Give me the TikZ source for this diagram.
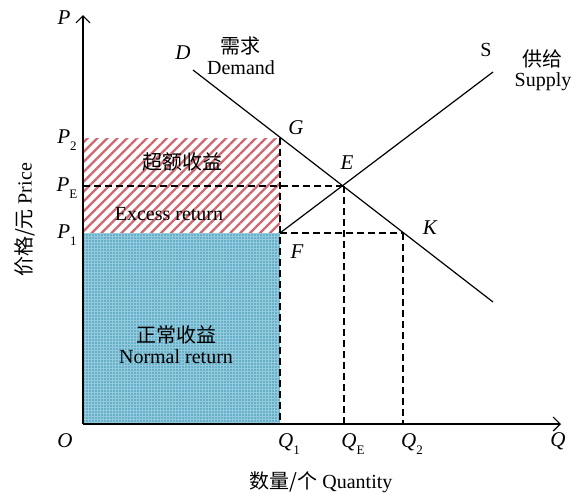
\documentclass[tikz,border=0pt]{standalone}
\usepackage{fontspec}
\setmainfont{Liberation Serif}
\newfontfamily\cjk{Noto Sans CJK SC}
\usetikzlibrary{arrows.meta, patterns.meta}
\definecolor{hatchred}{HTML}{d06670}
\definecolor{normalblue}{HTML}{94cadb}
\definecolor{dotblue}{HTML}{3896b8}
\newcommand{\lbl}[2]{\textit{#1}\raisebox{-0.75ex}{\upshape\fontsize{13}{13}\selectfont #2}}
\tikzset{
  axis/.style={line width=1.2pt, -{Straight Barb[length=7pt, width=14pt]}},
  curve/.style={line width=1.2pt},
  guide/.style={line width=1.2pt, dash pattern=on 7pt off 4pt},
  ptlabel/.style={font=\fontsize{21}{23}\selectfont\itshape, inner sep=1pt},
  txt/.style={font=\fontsize{20}{23}\selectfont, align=center, inner sep=1pt},
}

\begin{document}
\begin{tikzpicture}[x=1pt, y=-1pt]
  \useasboundingbox (0,0) rectangle (571,493);

  \coordinate (O) at (83,424);
  \coordinate (Ptop) at (83,15);
  \coordinate (Qend) at (561,424);
  \coordinate (G) at (280,138);
  \coordinate (E) at (344,186);
  \coordinate (F) at (280,233);
  \coordinate (K) at (403,233);
  \coordinate (Dstart) at (193,70);
  \coordinate (Dend) at (493,302);
  \coordinate (Send) at (493,72);
  \coordinate (P2) at (83,138);
  \coordinate (PE) at (83,186);
  \coordinate (P1) at (83,233);
  \coordinate (Q1) at (280,424);
  \coordinate (QE) at (344,424);
  \coordinate (Q2) at (403,424);

  % areas
  \path [pattern={Lines[angle=45, distance=7pt, line width=2.3pt]}, pattern color=hatchred] (P2) rectangle (F);
  \fill [normalblue] (P1) rectangle (Q1);
  \path [pattern={Dots[distance=3pt, radius=0.8pt]}, pattern color=dotblue] (P1) rectangle (Q1);

  \draw [guide] (PE) -- (E);
  \draw [guide] (F) -- (K);
  \draw [guide] (G) -- (Q1);
  \draw [guide] (E) -- (QE);
  \draw [guide] (K) -- (Q2);
  \draw [curve] (Dstart) -- (Dend);
  \draw [curve] (F) -- (Send);
  \draw [axis] (O) -- (Ptop);
  \draw [axis] (O) -- (Qend);

  \node (pP) [ptlabel] at (64,18) {P};
  \node (pP2) [ptlabel] at (67,140) {\lbl{P}{2}};
  \node (pPE) [ptlabel] at (67,188) {\lbl{P}{E}};
  \node (pP1) [ptlabel] at (67,235) {\lbl{P}{1}};
  \node (pO) [ptlabel] at (65,441) {O};
  \node (pQ1) [ptlabel] at (289,444) {\lbl{Q}{1}};
  \node (pQE) [ptlabel] at (353,444) {\lbl{Q}{E}};
  \node (pQ2) [ptlabel] at (412,444) {\lbl{Q}{2}};
  \node (pQ) [ptlabel] at (558,441) {Q};
  \node (pG) [ptlabel] at (296,128) {G};
  \node (pE) [ptlabel] at (347,163) {E};
  \node (pF) [ptlabel] at (297,252) {F};
  \node (pK) [ptlabel] at (430,228) {K};
  \node (pD) [ptlabel] at (183,53) {D};
  \node (pS) [txt] at (486,50) {S};

  \node (demandcn) [txt] at (240,46) {\cjk 需求};
  \node (demanden) [txt] at (241,68) {Demand};
  \node (supplycn) [txt] at (542,59) {\cjk 供给};
  \node (supplyen) [txt] at (543,82) {Supply};
  \node (excesscn) [txt] at (182,162) {\cjk 超额收益};
  \node (excessen) [txt] at (169,214) {Excess return};
  \node (normalcn) [txt] at (176,335) {\cjk 正常收益};
  \node (normalen) [txt] at (176,357) {Normal return};
  \node (ylabel) [txt, rotate=90] at (25,220) {{\cjk 价格/元} Price};
  \node (xlabel) [txt] at (321,482) {{\cjk 数量/个} Quantity};

\end{tikzpicture}
\end{document}
